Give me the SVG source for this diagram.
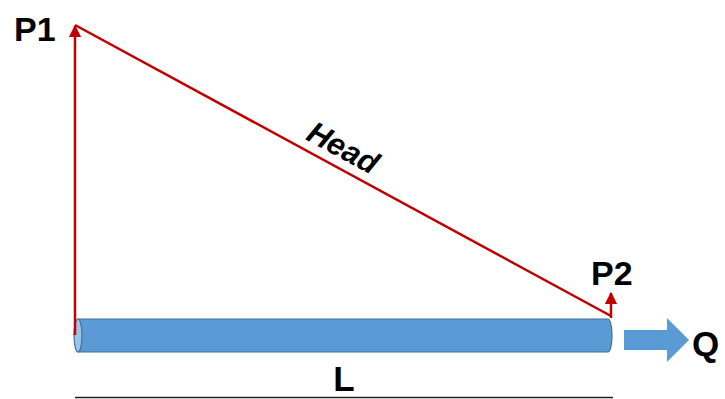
<svg xmlns="http://www.w3.org/2000/svg" width="725" height="399" viewBox="0 0 725 399">
<defs>
<style>
.lbl{font-family:"Liberation Sans",Arial,sans-serif;font-weight:bold;fill:#000}
.red{stroke:#C00000;stroke-width:2.5;fill:none}
</style>
<marker id="ah" viewBox="0 0 10 10" refX="9" refY="5" markerWidth="5" markerHeight="5" orient="auto" markerUnits="strokeWidth">
<path d="M0,0 L10,5 L0,10 z" fill="#C00000"/>
</marker>
</defs>
<rect width="725" height="399" fill="#fff"/>
<g id="pipe">
<path d="M78,319 H608 A4,16.5 0 0 1 608,352 H78 Z" fill="#5B9BD5" stroke="#41719C" stroke-width="1.2"/>
<ellipse cx="78" cy="335.5" rx="4" ry="16.5" fill="#9DC3E6" stroke="#41719C" stroke-width="1.2"/>
</g>
<g id="connectors">
<line class="red" x1="75" y1="335" x2="75" y2="26" marker-end="url(#ah)"/>
<line class="red" x1="611" y1="318" x2="611" y2="293" marker-end="url(#ah)"/>
<line class="red" x1="75" y1="25" x2="611" y2="316"/>
<line x1="75" y1="397.5" x2="613" y2="397.5" stroke="#222" stroke-width="1.5"/>
</g>
<g id="flow">
<path d="M624,330 H667 V318 L689,340 L667,362 V350 H624 Z" fill="#5B9BD5"/>
</g>
<g id="labels">
<text class="lbl" x="14" y="41" font-size="34">P1</text>
<text class="lbl" x="591" y="285" font-size="34">P2</text>
<text class="lbl" x="692" y="356" font-size="35">Q</text>
<text class="lbl" x="344" y="391" font-size="35" text-anchor="middle">L</text>
<text class="lbl" font-size="31" font-style="italic" text-anchor="middle" transform="translate(338,157) rotate(28.5)">Head</text>
</g>
</svg>
